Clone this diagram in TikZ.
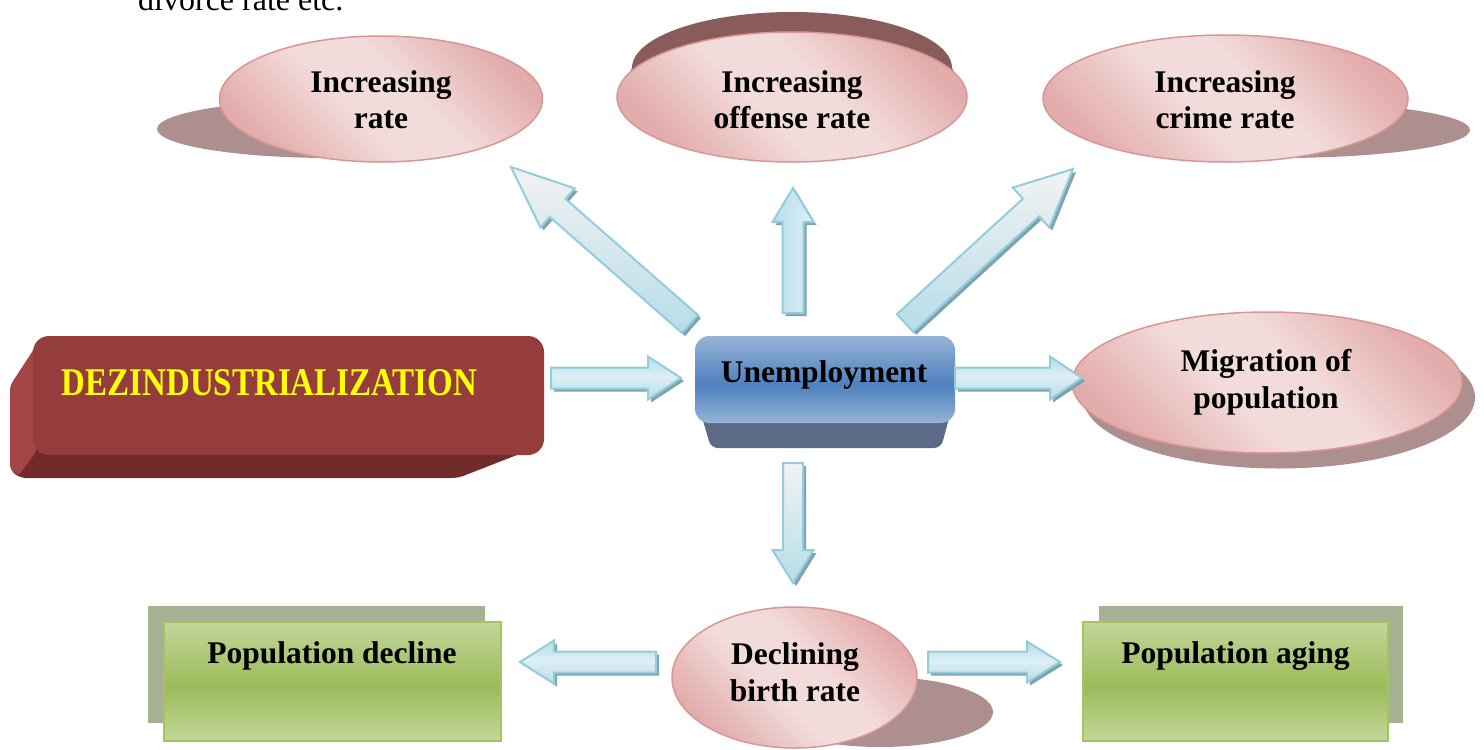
\documentclass[tikz,border=0pt]{standalone}
\usepackage{fontspec}
\setmainfont{Liberation Serif}
\usepackage{graphicx}
\usetikzlibrary{shapes.geometric,calc}

\definecolor{pkL}{HTML}{F2DCDB}
\definecolor{pkD}{HTML}{E2ACAB}
\definecolor{pkB}{HTML}{D99694}
\definecolor{shd}{HTML}{AE8F8F}
\definecolor{offtopc}{HTML}{8A5B5B}
\definecolor{dezF}{HTML}{953D3D}
\definecolor{dezB}{HTML}{722B2B}
\definecolor{dezS}{HTML}{A44646}
\definecolor{ubL}{HTML}{95B3D7}
\definecolor{ubD}{HTML}{4F81BD}
\definecolor{ubB}{HTML}{5B6B86}
\definecolor{gL}{HTML}{C3D69B}
\definecolor{gD}{HTML}{9BBB59}
\definecolor{gB}{HTML}{A5C25F}
\definecolor{gS}{HTML}{A6B093}
\definecolor{abB}{HTML}{93CDDD}
\definecolor{abT}{HTML}{F2F2F2}
\definecolor{abM}{HTML}{DDEFF4}
\definecolor{abD}{HTML}{B7DDE8}
\definecolor{abS}{HTML}{7FA3AD}
\definecolor{dezY}{HTML}{FFFF00}

\pgfdeclareverticalshading{pinkband}{100bp}{color(0bp)=(pkD); color(25bp)=(pkD); color(44bp)=(pkL); color(56bp)=(pkL); color(75bp)=(pkD); color(100bp)=(pkD)}
\pgfdeclareverticalshading{unempsh}{100bp}{color(0bp)=(ubL); color(25bp)=(ubL); color(47bp)=(ubD); color(75bp)=(ubL); color(100bp)=(ubL)}
\pgfdeclareverticalshading{greensh}{100bp}{color(0bp)=(gL); color(25bp)=(gL); color(48bp)=(gD); color(75bp)=(gL); color(100bp)=(gL)}
\pgfdeclareverticalshading{harrsh}{100bp}{color(0bp)=(abD); color(25bp)=(abD); color(52bp)=(abM); color(75bp)=(abD); color(100bp)=(abD)}

\tikzset{
  pinkell/.style={ellipse, draw=pkB, line width=1.5pt, shading=pinkband, shading angle=-45, inner sep=0},
  shadowell/.style={ellipse, fill=shd, inner sep=0},
  lbl/.style={font=\fontsize{31.5}{36.5}\selectfont\bfseries, align=center, inner sep=0},
  dezface/.style={rectangle, rounded corners=16pt, fill=dezF, inner sep=0},
  unface/.style={rectangle, rounded corners=14pt, shading=unempsh, inner sep=0},
  greenface/.style={rectangle, draw=gB, line width=1.5pt, shading=greensh, inner sep=0},
  greenshadow/.style={rectangle, fill=gS, inner sep=0},
  arrowsty/.style={draw=abB, line width=2pt, line join=miter},
  arrshadow/.style={fill=abS},
}

\newcommand\arrpath[4]{($(#1)!#3!90:(#2)$) -- ($(#1h)!#3!90:(#2)$) -- ($(#1h)!#4!90:(#2)$) -- (#2) -- ($(#1h)!#4!-90:(#2)$) -- ($(#1h)!#3!-90:(#2)$) -- ($(#1)!#3!-90:(#2)$) -- cycle}
\newcommand\blockarrow[6]{%
  \coordinate (#1h) at ($(#2)!#5!(#1)$);
  \begin{scope}[transform canvas={shift={(3pt,-3pt)}}]
    \fill[arrshadow] \arrpath{#1}{#2}{#3}{#4};
  \end{scope}
  \path[arrowsty,#6] \arrpath{#1}{#2}{#3}{#4};
}

\begin{document}
\begin{tikzpicture}[x=1pt,y=-1pt]
\useasboundingbox (0,0) rectangle (1484,750);

% cut-off text at top
\node[anchor=base west, inner sep=0, font=\fontsize{32}{38}\selectfont] (toptext) at (138,10) {divorce rate etc.};

% ---- ellipses ----
\node[shadowell, minimum width=348pt, minimum height=58pt] (e1s) at (331,129) {};
\node[pinkell, minimum width=323pt, minimum height=126pt] (e1) at (381,99) {};
\node[lbl] (e1t) at (381,99.75) {Increasing\\rate};

\fill[offtopc] (617,97) -- (632,68) arc[start angle=180, end angle=0, x radius=160pt, y radius=56pt] -- (967,97) -- cycle;
\node[pinkell, minimum width=350pt, minimum height=130pt] (e2) at (792,97) {};
\node[lbl] (e2t) at (792,99.75) {Increasing\\offense rate};

\node[shadowell, minimum width=380pt, minimum height=56pt] (e3s) at (1280,130) {};
\node[pinkell, minimum width=365pt, minimum height=127pt] (e3) at (1225.5,98.5) {};
\node[lbl] (e3t) at (1225,99.75) {Increasing\\crime rate};

\node[shadowell, minimum width=392pt, minimum height=142pt] (e4s) at (1279,397.5) {};
\node[pinkell, minimum width=390pt, minimum height=141pt] (e4) at (1267,382.5) {};
\node[lbl] (e4t) at (1266,382.5) {Migration of\\population};

\node[shadowell, minimum width=226pt, minimum height=70pt] (e5s) at (880,712) {};
\node[pinkell, minimum width=245pt, minimum height=141pt] (e5) at (794.5,677.5) {};
\node[lbl] (e5t) at (795,672.4) {Declining\\birth rate};

% ---- DEZINDUSTRIALIZATION box ----
\fill[dezB, rounded corners=6pt] (40,340) -- (10,386) -- (10,470) -- (20,478) -- (458,478) -- (540,446) -- (540,340) -- cycle;
\fill[dezS, rounded corners=4pt] (40,340) -- (10,386) -- (10,468) -- (18,476) -- (36,452) -- cycle;
\node[dezface, minimum width=511pt, minimum height=119pt] (dez) at (288.5,395.5) {};
\node[inner sep=0, text=dezY] (dezt) at (269.5,383) {\resizebox{415pt}{26pt}{\bfseries DEZINDUSTRIALIZATION}};

% ---- Unemployment box ----
\fill[ubB, rounded corners=7pt] (697,400) -- (711,448) -- (941,448) -- (954,400) -- cycle;
\node[unface, minimum width=260pt, minimum height=87pt] (un) at (825,379.5) {};
\node[lbl, anchor=base] (unt) at (824,382) {Unemployment};

% ---- green boxes ----
\node[greenshadow, minimum width=337pt, minimum height=117pt] (pds) at (316.5,664.5) {};
\node[greenface, minimum width=337pt, minimum height=119pt] (pd) at (332.5,681.5) {};
\node[lbl, anchor=base] (pdt) at (332,663) {Population decline};

\node[greenshadow, minimum width=304pt, minimum height=117pt] (pas) at (1251,664.5) {};
\node[greenface, minimum width=305pt, minimum height=119pt] (pa) at (1235.5,681.5) {};
\node[lbl, anchor=base] (pat) at (1235.5,663) {Population aging};

% ---- block arrows ----
\coordinate (aA) at (551,378);  \coordinate (aAt) at (681,378);
\coordinate (aB) at (955,378);  \coordinate (aBt) at (1082,378);
\coordinate (aC) at (793,463);  \coordinate (aCt) at (793,583);
\coordinate (aD) at (793,313);  \coordinate (aDt) at (793,188);
\coordinate (aE) at (690,324);  \coordinate (aEt) at (511,167);
\coordinate (aF) at (905,323);  \coordinate (aFt) at (1073,169);
\coordinate (aG) at (656,662);  \coordinate (aGt) at (520,662);
\coordinate (aH) at (928,662);  \coordinate (aHt) at (1060,662);

\blockarrow{aA}{aAt}{10.5pt}{21.5pt}{33pt}{shading=harrsh}
\blockarrow{aB}{aBt}{10.5pt}{21.5pt}{32pt}{shading=harrsh}
\blockarrow{aC}{aCt}{10pt}{20.5pt}{33pt}{top color=abT, bottom color=abD}
\blockarrow{aD}{aDt}{10.5pt}{20.5pt}{34pt}{left color=abD, right color=abM}
\blockarrow{aE}{aEt}{12pt}{26pt}{62pt}{top color=abT, bottom color=abD}
\blockarrow{aF}{aFt}{12pt}{27pt}{57pt}{top color=abT, bottom color=abD}
\blockarrow{aG}{aGt}{10.5pt}{21.5pt}{34pt}{shading=harrsh}
\blockarrow{aH}{aHt}{10.5pt}{20.5pt}{33pt}{shading=harrsh}

\end{tikzpicture}
\end{document}
